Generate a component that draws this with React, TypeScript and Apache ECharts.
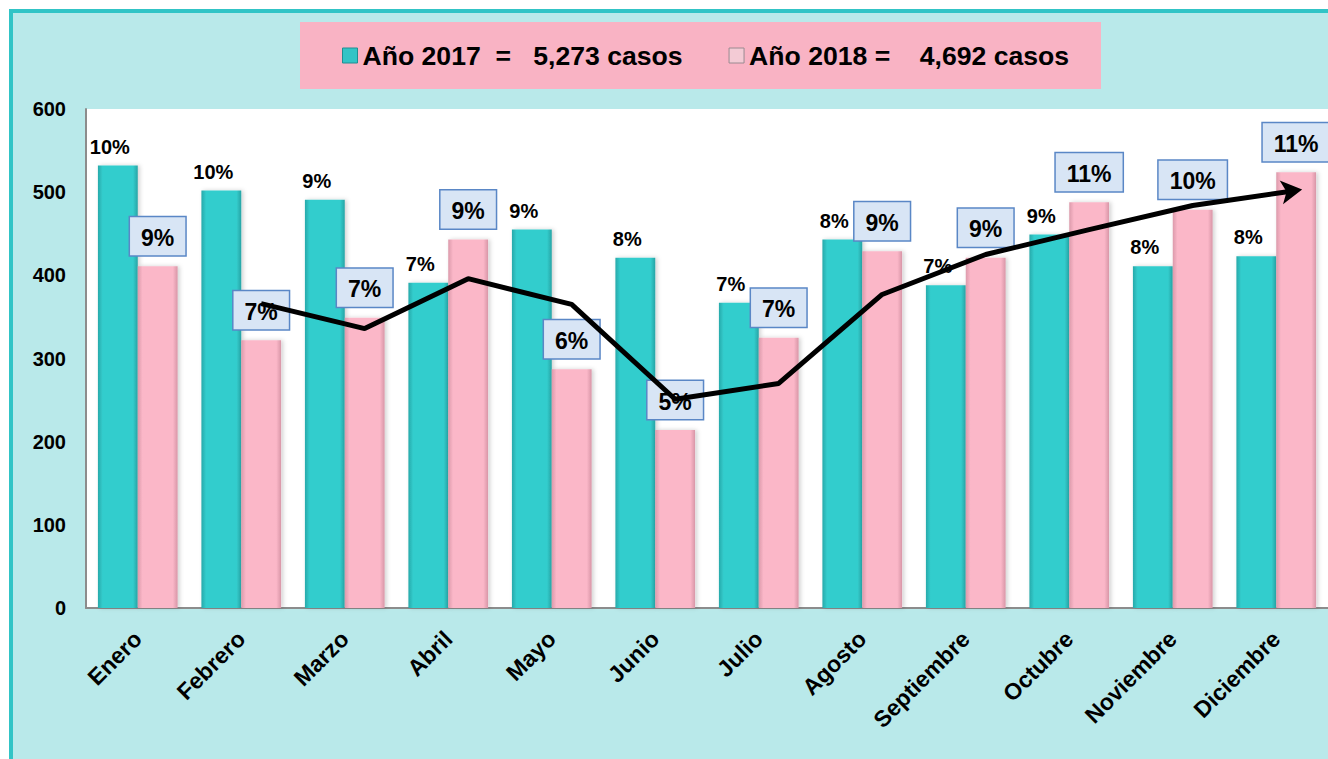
import React, { useEffect, useRef } from "react";
import * as echarts from "echarts";

const months = ["Enero", "Febrero", "Marzo", "Abril", "Mayo", "Junio", "Julio", "Agosto", "Septiembre", "Octubre", "Noviembre", "Diciembre"];
const cases2017 = [532, 502, 491, 391, 455, 421, 367, 443, 388, 449, 411, 423];
const cases2018 = [411, 322, 349, 443, 287, 214, 325, 429, 421, 488, 479, 524];
const pct2017 = ["10%", "10%", "9%", "7%", "9%", "8%", "7%", "8%", "7%", "9%", "8%", "8%"];
const pct2018 = ["9%", "7%", "7%", "9%", "6%", "5%", "7%", "9%", "9%", "11%", "10%", "11%"];
// trend line (drawn over the 2018 bars), first month empty
const trend2018: (number | null)[] = [null, 366, 336, 396, 365, 251, 270, 377, 425, 455, 484, 502];
const yTicks = [0, 100, 200, 300, 400, 500, 600];
const seriesNames = ["Año 2017", "Año 2018"];
const legendTexts = ["Año 2017  =   5,273 casos", "Año 2018 =    4,692 casos"];

const FONT = 'Arial, "Liberation Sans", sans-serif';

export default function App() {
  const ref = useRef<HTMLDivElement>(null);
  useEffect(() => {
    if (!ref.current) return;
    const chart = echarts.init(ref.current, undefined, { renderer: "svg" });
    const tealColor = new echarts.graphic.LinearGradient(0, 0, 1, 0, [
      { offset: 0, color: "#27a9aa" },
      { offset: 0.12, color: "#33cdcd" },
      { offset: 0.88, color: "#33cdcd" },
      { offset: 1, color: "#27a4a5" },
    ]);
    const pinkColor = new echarts.graphic.LinearGradient(0, 0, 1, 0, [
      { offset: 0, color: "#dc9aab" },
      { offset: 0.12, color: "#fbb7c8" },
      { offset: 0.88, color: "#fbb7c8" },
      { offset: 1, color: "#d896a7" },
    ]);
    // shift of the pink bar centre inside a category (bar group = 80 of 104 px, pink half)
    const pinkShift = 20 / 104;
    const lineData = trend2018
      .map((v, i) => (v == null ? null : { i, v }))
      .filter((d) => d != null)
      .map((d: any, k, arr) =>
        k === arr.length - 1
          ? { value: [d.i + pinkShift, d.v], symbol: "arrow", symbolSize: [18, 21], symbolRotate: -82, symbolOffset: [6, -1] }
          : { value: [d.i + pinkShift, d.v] }
      );

    chart.setOption({
      animation: false,
      backgroundColor: "#ffffff",
      graphic: [
        {
          type: "rect",
          z: -10,
          shape: { x: 11, y: 11, width: 1340, height: 770 },
          style: { fill: "#b9e9ea", stroke: "#31c4c6", lineWidth: 4 },
        },
        {
          type: "rect",
          z: -5,
          shape: { x: 300, y: 22, width: 801, height: 67 },
          style: { fill: "#f9b3c4" },
        },
      ],
      legend: {
        z: 10,
        left: 337,
        top: 37,
        itemWidth: 15,
        itemHeight: 15,
        itemGap: 46,
        icon: "rect",
        data: [
          { name: seriesNames[0], itemStyle: { color: "#33c4c6", borderColor: "#1f8f92", borderWidth: 1 } },
          { name: seriesNames[1], itemStyle: { color: "#f3cbd5", borderColor: "#9a8a90", borderWidth: 1 } },
        ],
        formatter: (name: string) => legendTexts[seriesNames.indexOf(name)],
        textStyle: { fontFamily: FONT, fontWeight: "bold", fontSize: 26.6, color: "#000" },
      },
      grid: {
        left: 86,
        top: 109,
        right: -6,
        bottom: 151,
        show: true,
        backgroundColor: "#ffffff",
        borderWidth: 0,
      },
      xAxis: [
        {
          type: "category",
          data: months,
          axisLine: { show: true, lineStyle: { color: "#8c8c8c", width: 2 } },
          axisTick: { show: false },
          axisLabel: {
            rotate: 45,
            interval: 0,
            margin: 27,
            color: "#000",
            fontFamily: FONT,
            fontWeight: "bold",
            fontSize: 23,
          },
        },
        {
          type: "value",
          min: -0.5,
          max: 11.5,
          show: false,
        },
      ],
      yAxis: {
        type: "value",
        min: yTicks[0],
        max: yTicks[yTicks.length - 1],
        interval: 100,
        splitLine: { show: false },
        axisLine: { show: true, onZero: false, lineStyle: { color: "#8c8c8c", width: 2 } },
        axisTick: { show: false },
        axisLabel: {
          margin: 20,
          color: "#000",
          fontFamily: FONT,
          fontWeight: "bold",
          fontSize: 20,
        },
      },
      series: [
        {
          name: seriesNames[0],
          type: "bar",
          data: cases2017,
          barGap: "0%",
          barCategoryGap: "23%",
          itemStyle: { color: tealColor, shadowColor: "rgba(0,0,0,0.18)", shadowBlur: 4, shadowOffsetX: 2, shadowOffsetY: 0 },
          label: {
            show: true,
            position: "top",
            distance: 9,
            offset: [-8, 0],
            formatter: (p: any) => pct2017[p.dataIndex],
            color: "#000",
            fontFamily: FONT,
            fontWeight: "bold",
            fontSize: 20,
          },
          z: 2,
        },
        {
          name: seriesNames[1],
          type: "bar",
          data: cases2018,
          itemStyle: { color: pinkColor, shadowColor: "rgba(0,0,0,0.18)", shadowBlur: 4, shadowOffsetX: 2, shadowOffsetY: 0 },
          label: {
            show: true,
            position: "top",
            distance: 11,
            formatter: (p: any) => pct2018[p.dataIndex],
            color: "#000",
            fontFamily: FONT,
            fontWeight: "bold",
            fontSize: 23,
            backgroundColor: "#d8e5f5",
            borderColor: "#5a87c6",
            borderWidth: 1.5,
            padding: [9, 11, 6, 11],
          },
          z: 2,
        },
        {
          name: "tendencia",
          type: "line",
          xAxisIndex: 1,
          data: lineData,
          symbol: "none",
          showSymbol: true,
          lineStyle: { color: "#000", width: 5 },
          itemStyle: { color: "#000" },
          z: 5,
          silent: true,
        },
      ],
    });
    return () => chart.dispose();
  }, []);
  return <div ref={ref} style={{ position: "fixed", left: 0, top: 0, width: 1328, height: 759 }} />;
}
